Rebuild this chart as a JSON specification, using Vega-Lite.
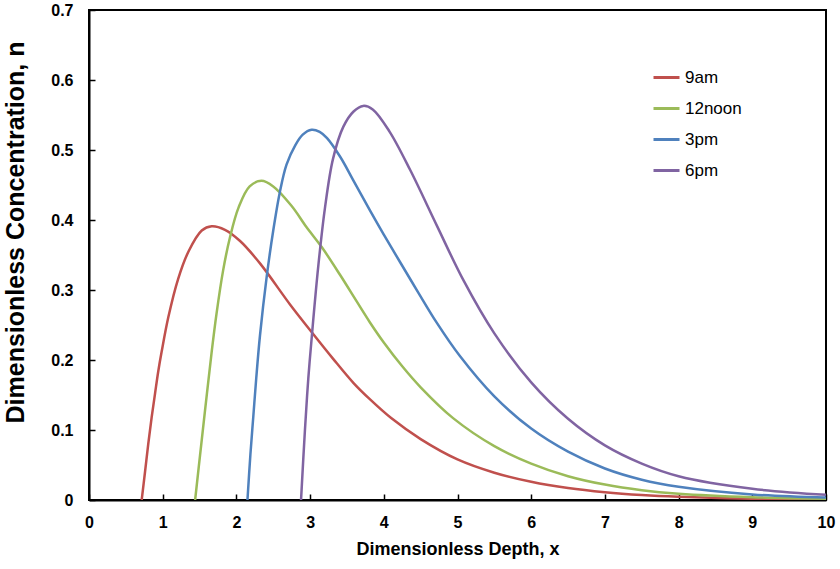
{
  "$schema": "https://vega.github.io/schema/vega-lite/v6.json",
  "autosize": "none",
  "width": 737,
  "height": 490,
  "padding": {"left": 89, "top": 10, "right": 14, "bottom": 69},
  "background": "white",
  "config": {
    "font": "Liberation Sans",
    "view": {"stroke": "black", "strokeWidth": 2},
    "axis": {"grid": false, "domainColor": "black", "domainWidth": 2, "tickColor": "black", "tickWidth": 1.5, "labelColor": "black", "titleColor": "black"}
  },
  "data": {
    "values": [
      {"series": "9am", "x": 0.715, "n": 0},
      {"series": "9am", "x": 0.76, "n": 0.04},
      {"series": "9am", "x": 0.805, "n": 0.081},
      {"series": "9am", "x": 0.85, "n": 0.118},
      {"series": "9am", "x": 0.896, "n": 0.152},
      {"series": "9am", "x": 0.94, "n": 0.184},
      {"series": "9am", "x": 0.986, "n": 0.212},
      {"series": "9am", "x": 1.076, "n": 0.261},
      {"series": "9am", "x": 1.21, "n": 0.316},
      {"series": "9am", "x": 1.35, "n": 0.355},
      {"series": "9am", "x": 1.53, "n": 0.385},
      {"series": "9am", "x": 1.665, "n": 0.391},
      {"series": "9am", "x": 1.845, "n": 0.386},
      {"series": "9am", "x": 2.05, "n": 0.37},
      {"series": "9am", "x": 2.32, "n": 0.338},
      {"series": "9am", "x": 2.73, "n": 0.279},
      {"series": "9am", "x": 3.02, "n": 0.24},
      {"series": "9am", "x": 3.31, "n": 0.202},
      {"series": "9am", "x": 3.59, "n": 0.167},
      {"series": "9am", "x": 3.81, "n": 0.144},
      {"series": "9am", "x": 4.1, "n": 0.117},
      {"series": "9am", "x": 4.5, "n": 0.087},
      {"series": "9am", "x": 5.0, "n": 0.058},
      {"series": "9am", "x": 5.5, "n": 0.039},
      {"series": "9am", "x": 6.0, "n": 0.026},
      {"series": "9am", "x": 6.5, "n": 0.017},
      {"series": "9am", "x": 7.0, "n": 0.011},
      {"series": "9am", "x": 7.5, "n": 0.007},
      {"series": "9am", "x": 8.0, "n": 0.0045},
      {"series": "9am", "x": 9.0, "n": 0.0018},
      {"series": "9am", "x": 10.0, "n": 0.0007},

      {"series": "12noon", "x": 1.44, "n": 0},
      {"series": "12noon", "x": 1.49, "n": 0.048},
      {"series": "12noon", "x": 1.53, "n": 0.086},
      {"series": "12noon", "x": 1.6, "n": 0.152},
      {"series": "12noon", "x": 1.665, "n": 0.212},
      {"series": "12noon", "x": 1.73, "n": 0.266},
      {"series": "12noon", "x": 1.82, "n": 0.328},
      {"series": "12noon", "x": 1.91, "n": 0.374},
      {"series": "12noon", "x": 2.03, "n": 0.418},
      {"series": "12noon", "x": 2.18, "n": 0.448},
      {"series": "12noon", "x": 2.34, "n": 0.456},
      {"series": "12noon", "x": 2.5, "n": 0.448},
      {"series": "12noon", "x": 2.75, "n": 0.42},
      {"series": "12noon", "x": 2.95, "n": 0.39},
      {"series": "12noon", "x": 3.16, "n": 0.361},
      {"series": "12noon", "x": 3.41, "n": 0.321},
      {"series": "12noon", "x": 3.63, "n": 0.284},
      {"series": "12noon", "x": 3.81, "n": 0.254},
      {"series": "12noon", "x": 4.0, "n": 0.225},
      {"series": "12noon", "x": 4.25, "n": 0.191},
      {"series": "12noon", "x": 4.5, "n": 0.161},
      {"series": "12noon", "x": 4.94, "n": 0.117},
      {"series": "12noon", "x": 5.5, "n": 0.077},
      {"series": "12noon", "x": 6.0, "n": 0.052},
      {"series": "12noon", "x": 6.5, "n": 0.034},
      {"series": "12noon", "x": 7.0, "n": 0.022},
      {"series": "12noon", "x": 7.5, "n": 0.014},
      {"series": "12noon", "x": 8.0, "n": 0.009},
      {"series": "12noon", "x": 9.0, "n": 0.004},
      {"series": "12noon", "x": 10.0, "n": 0.0018},

      {"series": "3pm", "x": 2.15, "n": 0},
      {"series": "3pm", "x": 2.19, "n": 0.065},
      {"series": "3pm", "x": 2.23, "n": 0.12},
      {"series": "3pm", "x": 2.27, "n": 0.175},
      {"series": "3pm", "x": 2.32, "n": 0.235},
      {"series": "3pm", "x": 2.41, "n": 0.318},
      {"series": "3pm", "x": 2.5, "n": 0.385},
      {"series": "3pm", "x": 2.59, "n": 0.44},
      {"series": "3pm", "x": 2.68, "n": 0.479},
      {"series": "3pm", "x": 2.8, "n": 0.507},
      {"series": "3pm", "x": 2.9, "n": 0.522},
      {"series": "3pm", "x": 3.02, "n": 0.529},
      {"series": "3pm", "x": 3.13, "n": 0.526},
      {"series": "3pm", "x": 3.23, "n": 0.517},
      {"series": "3pm", "x": 3.41, "n": 0.49},
      {"series": "3pm", "x": 3.59, "n": 0.456},
      {"series": "3pm", "x": 3.81, "n": 0.414},
      {"series": "3pm", "x": 4.0, "n": 0.379},
      {"series": "3pm", "x": 4.22, "n": 0.34},
      {"series": "3pm", "x": 4.47, "n": 0.296},
      {"series": "3pm", "x": 4.72, "n": 0.253},
      {"series": "3pm", "x": 5.03, "n": 0.206},
      {"series": "3pm", "x": 5.5, "n": 0.148},
      {"series": "3pm", "x": 6.0, "n": 0.102},
      {"series": "3pm", "x": 6.5, "n": 0.069},
      {"series": "3pm", "x": 7.0, "n": 0.045},
      {"series": "3pm", "x": 7.5, "n": 0.029},
      {"series": "3pm", "x": 8.0, "n": 0.019},
      {"series": "3pm", "x": 9.0, "n": 0.008},
      {"series": "3pm", "x": 10.0, "n": 0.0035},

      {"series": "6pm", "x": 2.877, "n": 0},
      {"series": "6pm", "x": 2.93, "n": 0.1},
      {"series": "6pm", "x": 2.976, "n": 0.174},
      {"series": "6pm", "x": 3.035, "n": 0.248},
      {"series": "6pm", "x": 3.11, "n": 0.333},
      {"series": "6pm", "x": 3.2, "n": 0.416},
      {"series": "6pm", "x": 3.31, "n": 0.487},
      {"series": "6pm", "x": 3.45, "n": 0.533},
      {"series": "6pm", "x": 3.59, "n": 0.555},
      {"series": "6pm", "x": 3.72, "n": 0.563},
      {"series": "6pm", "x": 3.85, "n": 0.558},
      {"series": "6pm", "x": 4.08, "n": 0.526},
      {"series": "6pm", "x": 4.36, "n": 0.471},
      {"series": "6pm", "x": 4.72, "n": 0.392},
      {"series": "6pm", "x": 5.08, "n": 0.314},
      {"series": "6pm", "x": 5.5, "n": 0.238},
      {"series": "6pm", "x": 6.0, "n": 0.168},
      {"series": "6pm", "x": 6.5, "n": 0.116},
      {"series": "6pm", "x": 7.0, "n": 0.078},
      {"series": "6pm", "x": 7.5, "n": 0.052},
      {"series": "6pm", "x": 8.0, "n": 0.034},
      {"series": "6pm", "x": 9.0, "n": 0.016},
      {"series": "6pm", "x": 10.0, "n": 0.0075}
    ]
  },
  "mark": {"type": "line", "interpolate": "catmull-rom", "strokeWidth": 2.5, "clip": true},
  "encoding": {
    "x": {
      "field": "x", "type": "quantitative",
      "scale": {"domain": [0, 10], "nice": false},
      "axis": {
        "values": [0, 1, 2, 3, 4, 5, 6, 7, 8, 9, 10],
        "title": "Dimensionless Depth, x",
        "titleFontSize": 18, "titleFontWeight": "bold", "titlePadding": 10,
        "labelFontSize": 16, "labelFontWeight": "bold", "labelFlush": false, "labelOverlap": false,
        "tickSize": -6, "labelPadding": 20
      }
    },
    "y": {
      "field": "n", "type": "quantitative",
      "scale": {"domain": [0, 0.7], "nice": false},
      "axis": {
        "values": [0, 0.1, 0.2, 0.3, 0.4, 0.5, 0.6, 0.7],
        "format": "~g",
        "title": "Dimensionless Concentration, n",
        "titleFontSize": 25, "titleFontWeight": "bold", "titlePadding": 22, "titleY": 222,
        "labelFontSize": 16, "labelFontWeight": "bold", "labelFlush": false, "labelOverlap": false,
        "tickSize": -6, "labelPadding": 22
      }
    },
    "color": {
      "field": "series", "type": "nominal",
      "scale": {"domain": ["9am", "12noon", "3pm", "6pm"], "range": ["#C0504D", "#9BBB59", "#4F81BD", "#8064A2"]},
      "legend": {
        "title": null, "orient": "none", "legendX": 563, "legendY": 53,
        "symbolType": "stroke", "symbolSize": 676, "symbolStrokeWidth": 3,
        "labelFontSize": 17, "labelColor": "black", "labelOffset": 4, "rowPadding": 8
      }
    }
  }
}
